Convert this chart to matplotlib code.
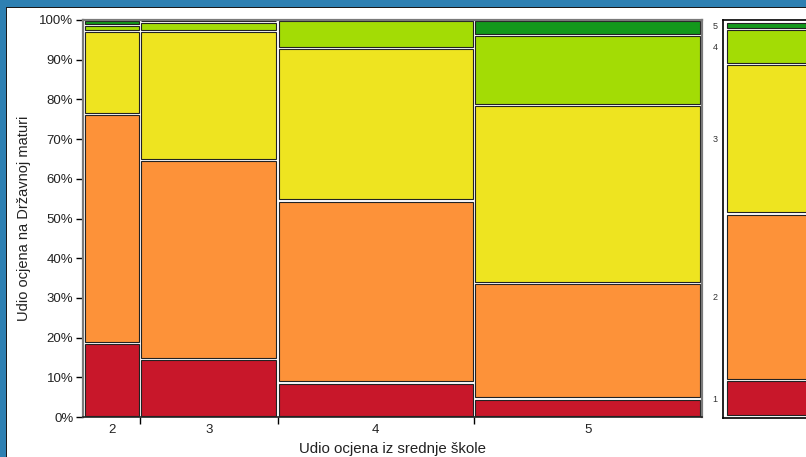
import numpy as np
import matplotlib
matplotlib.use('Agg')
from matplotlib import pyplot as plt
from matplotlib.patches import Rectangle

plt.rcParams['font.family'] = ['Liberation Sans', 'DejaVu Sans']

# school grade columns and their share of students
school_grades = ['2', '3', '4', '5']
col_share = [0.089, 0.222, 0.319, 0.370]

# share (%) of matura grades 1..5 within each school grade column
grade1 = [18.6, 14.6, 8.7, 4.7]
grade2 = [57.7, 50.1, 45.8, 29.1]
grade3 = [20.9, 32.6, 38.5, 44.8]
grade4 = [1.5, 2.2, 7.0, 17.6]
grade5 = [1.3, 0.5, 0.0, 3.8]

# overall matura grade distribution (right panel)
matura_labels = ['1', '2', '3', '4', '5']
matura_total = [9.3, 42.1, 37.8, 9.0, 1.8]

colors = ['#C8172A', '#FD9239', '#EEE420', '#A3DC05', '#13981B']
blue = '#2E80B2'

fig = plt.figure(figsize=(8.06, 4.57), dpi=100)
W, H = 806, 457

# screenshot frame (blue strip top and left)
fig.add_artist(Rectangle((0, 1 - 7 / H), 1, 7 / H, transform=fig.transFigure,
                         color=blue, lw=0, zorder=-5))
fig.add_artist(Rectangle((0, 0), 6 / W, 1, transform=fig.transFigure,
                         color=blue, lw=0, zorder=-5))
fig.add_artist(Rectangle((6 / W, 1 - 8 / H), 1, 1 / H, transform=fig.transFigure,
                         color='#1a1a1a', lw=0, zorder=-4))
fig.add_artist(Rectangle((6 / W, 0), 1 / W, 1 - 7 / H, transform=fig.transFigure,
                         color='#1a1a1a', lw=0, zorder=-4))

######################## main mosaic ########################
ax = fig.add_axes([83 / W, 1 - 417 / H, (702 - 83) / W, 397 / H])

gap = 0.004
scale = 1 - 3 * gap
inset = 0.3
segs = [grade1, grade2, grade3, grade4, grade5]

lefts = []
centers = []
x = 0.0
for i, w in enumerate(col_share):
    ww = w * scale
    lefts.append(x)
    centers.append(x + ww / 2)
    bottom = 0.0
    for k, seg in enumerate(segs):
        h = seg[i]
        if h > 0:
            ax.bar(x, h - 2 * inset, width=ww, bottom=bottom + inset, align='edge',
                   color=colors[k], edgecolor='#222222', linewidth=0.8)
        bottom += h
    x += ww + gap

ax.set_xlim(-0.003, x - gap + 0.003)
ax.set_ylim(0, 100)

ax.set_yticks(np.arange(0, 101, 10))
ax.set_yticklabels([f'{v}%' for v in range(0, 101, 10)], fontsize=9.5, color='#222222')
ax.set_xticks(centers)
ax.set_xticklabels(school_grades, fontsize=9.5, color='#222222')
ax.set_xticks([lefts[i] - gap / 2 for i in range(1, 4)], minor=True)
ax.tick_params(axis='x', which='major', length=0, pad=5)
ax.tick_params(axis='x', which='minor', length=5, width=1, direction='out')
ax.tick_params(axis='y', length=5, width=1, pad=2)

for s in ['top', 'right', 'left']:
    ax.spines[s].set_color('#7a7a7a')
    ax.spines[s].set_linewidth(1.6)
ax.spines['bottom'].set_color('#222222')
ax.spines['bottom'].set_linewidth(1.2)

ax.set_ylabel('Udio ocjena na Državnoj maturi', fontsize=10.5, color='#222222', labelpad=6)
ax.set_xlabel('Udio ocjena iz srednje škole', fontsize=10.8, color='#222222', labelpad=4)

######################## right panel ########################
ax2 = fig.add_axes([723 / W, 1 - 418 / H, 200 / W, 398 / H])
bottom = 0.0
mids = []
for k, h in enumerate(matura_total):
    ax2.bar(0.02, h - 2 * inset, width=1.0, bottom=bottom + inset, align='edge',
            color=colors[k], edgecolor='#222222', linewidth=0.8)
    mids.append(bottom + h / 2)
    bottom += h
ax2.set_xlim(0, 1)
ax2.set_ylim(-0.4, 100.4)
ax2.set_xticks([])
ax2.set_yticks(mids)
ax2.set_yticklabels(matura_labels, fontsize=6.5, color='#333333')
ax2.tick_params(axis='y', length=0, pad=4)
for s in ax2.spines.values():
    s.set_color('black')
    s.set_linewidth(1.2)

fig.savefig('out.png', dpi=100)
